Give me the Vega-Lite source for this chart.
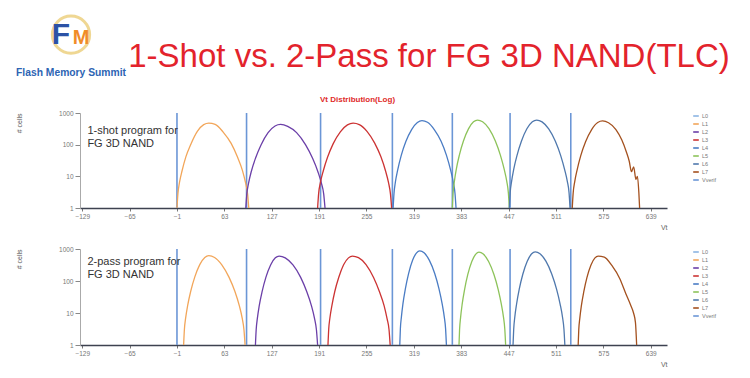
{
  "$schema": "https://vega.github.io/schema/vega-lite/v6.json",
  "background": "white",
  "padding": {"left": 14, "top": 10, "right": 5, "bottom": 5},
  "config": {
    "view": {"stroke": null},
    "font": "Liberation Sans",
    "legend": {"title": null, "orient": "right", "offset": 26, "labelFontSize": 5.5, "labelColor": "#777777", "symbolType": "M-1.4,0H1.4", "symbolSize": 16, "symbolStrokeWidth": 1.6, "rowPadding": 0, "labelOffset": 3, "padding": 0}
  },
  "datasets": {
    "verify": [
      {"level": "Vverif", "vt": -1}, {"level": "Vverif", "vt": 93}, {"level": "Vverif", "vt": 193}, {"level": "Vverif", "vt": 290},
      {"level": "Vverif", "vt": 371}, {"level": "Vverif", "vt": 449}, {"level": "Vverif", "vt": 531}
    ],
    "shot1": [
      {"level": "L1", "vt": -1, "cells": 1}, {"level": "L1", "vt": 0.3, "cells": 2.85}, {"level": "L1", "vt": 2.4, "cells": 6.4}, {"level": "L1", "vt": 5.9, "cells": 15}, {"level": "L1", "vt": 11, "cells": 41}, {"level": "L1", "vt": 17.9, "cells": 105}, {"level": "L1", "vt": 26.5, "cells": 262}, {"level": "L1", "vt": 35.1, "cells": 430}, {"level": "L1", "vt": 42, "cells": 480}, {"level": "L1", "vt": 50.6, "cells": 440}, {"level": "L1", "vt": 61.4, "cells": 250}, {"level": "L1", "vt": 72.2, "cells": 110}, {"level": "L1", "vt": 80.9, "cells": 40}, {"level": "L1", "vt": 87.4, "cells": 15.5}, {"level": "L1", "vt": 91.7, "cells": 6.2}, {"level": "L1", "vt": 94.4, "cells": 2.8}, {"level": "L1", "vt": 96, "cells": 1},
      {"level": "L2", "vt": 92, "cells": 1}, {"level": "L2", "vt": 93.4, "cells": 2.8}, {"level": "L2", "vt": 95.8, "cells": 6.2}, {"level": "L2", "vt": 99.5, "cells": 14.5}, {"level": "L2", "vt": 105.2, "cells": 38}, {"level": "L2", "vt": 112.7, "cells": 100}, {"level": "L2", "vt": 122.1, "cells": 240}, {"level": "L2", "vt": 131.5, "cells": 390}, {"level": "L2", "vt": 139, "cells": 437}, {"level": "L2", "vt": 148.6, "cells": 380}, {"level": "L2", "vt": 160.6, "cells": 240}, {"level": "L2", "vt": 172.6, "cells": 100}, {"level": "L2", "vt": 182.2, "cells": 37}, {"level": "L2", "vt": 189.4, "cells": 14}, {"level": "L2", "vt": 194.2, "cells": 6}, {"level": "L2", "vt": 197.2, "cells": 2.8}, {"level": "L2", "vt": 199, "cells": 1},
      {"level": "L3", "vt": 189, "cells": 1}, {"level": "L3", "vt": 190.4, "cells": 2.9}, {"level": "L3", "vt": 192.8, "cells": 6.4}, {"level": "L3", "vt": 196.7, "cells": 15}, {"level": "L3", "vt": 202.4, "cells": 40}, {"level": "L3", "vt": 210.1, "cells": 108}, {"level": "L3", "vt": 219.7, "cells": 255}, {"level": "L3", "vt": 229.3, "cells": 420}, {"level": "L3", "vt": 237, "cells": 480}, {"level": "L3", "vt": 245.3, "cells": 430}, {"level": "L3", "vt": 255.7, "cells": 262}, {"level": "L3", "vt": 266.1, "cells": 112}, {"level": "L3", "vt": 274.4, "cells": 42}, {"level": "L3", "vt": 280.7, "cells": 15}, {"level": "L3", "vt": 284.8, "cells": 6.3}, {"level": "L3", "vt": 287.4, "cells": 2.8}, {"level": "L3", "vt": 289, "cells": 1},
      {"level": "L4", "vt": 291, "cells": 1}, {"level": "L4", "vt": 292.2, "cells": 2.9}, {"level": "L4", "vt": 294.1, "cells": 6.7}, {"level": "L4", "vt": 297.2, "cells": 16}, {"level": "L4", "vt": 301.9, "cells": 45}, {"level": "L4", "vt": 308.2, "cells": 125}, {"level": "L4", "vt": 316, "cells": 300}, {"level": "L4", "vt": 323.8, "cells": 500}, {"level": "L4", "vt": 330, "cells": 575}, {"level": "L4", "vt": 337.4, "cells": 510}, {"level": "L4", "vt": 346.6, "cells": 300}, {"level": "L4", "vt": 355.8, "cells": 128}, {"level": "L4", "vt": 363.1, "cells": 46}, {"level": "L4", "vt": 368.6, "cells": 16}, {"level": "L4", "vt": 372.3, "cells": 6.5}, {"level": "L4", "vt": 374.6, "cells": 2.9}, {"level": "L4", "vt": 376, "cells": 1},
      {"level": "L5", "vt": 371, "cells": 1}, {"level": "L5", "vt": 372, "cells": 3}, {"level": "L5", "vt": 373.7, "cells": 6.8}, {"level": "L5", "vt": 376.4, "cells": 17}, {"level": "L5", "vt": 380.5, "cells": 47}, {"level": "L5", "vt": 386, "cells": 130}, {"level": "L5", "vt": 392.8, "cells": 315}, {"level": "L5", "vt": 399.6, "cells": 525}, {"level": "L5", "vt": 405, "cells": 600}, {"level": "L5", "vt": 411.9, "cells": 530}, {"level": "L5", "vt": 420.5, "cells": 320}, {"level": "L5", "vt": 429.1, "cells": 130}, {"level": "L5", "vt": 436, "cells": 46}, {"level": "L5", "vt": 441.1, "cells": 16.5}, {"level": "L5", "vt": 444.6, "cells": 6.8}, {"level": "L5", "vt": 446.7, "cells": 3}, {"level": "L5", "vt": 448, "cells": 1},
      {"level": "L6", "vt": 448, "cells": 1}, {"level": "L6", "vt": 449.1, "cells": 3}, {"level": "L6", "vt": 451, "cells": 6.8}, {"level": "L6", "vt": 453.9, "cells": 16.5}, {"level": "L6", "vt": 458.4, "cells": 46}, {"level": "L6", "vt": 464.3, "cells": 128}, {"level": "L6", "vt": 471.7, "cells": 318}, {"level": "L6", "vt": 479.1, "cells": 530}, {"level": "L6", "vt": 485, "cells": 600}, {"level": "L6", "vt": 492.2, "cells": 525}, {"level": "L6", "vt": 501.2, "cells": 315}, {"level": "L6", "vt": 510.2, "cells": 128}, {"level": "L6", "vt": 517.4, "cells": 45}, {"level": "L6", "vt": 522.8, "cells": 16}, {"level": "L6", "vt": 526.4, "cells": 6.8}, {"level": "L6", "vt": 528.7, "cells": 3}, {"level": "L6", "vt": 530, "cells": 1},
      {"level": "L7", "vt": 533, "cells": 1}, {"level": "L7", "vt": 534.2, "cells": 2.9}, {"level": "L7", "vt": 536.3, "cells": 6.7}, {"level": "L7", "vt": 539.6, "cells": 16}, {"level": "L7", "vt": 544.5, "cells": 45}, {"level": "L7", "vt": 551, "cells": 123}, {"level": "L7", "vt": 559.2, "cells": 300}, {"level": "L7", "vt": 567.4, "cells": 500}, {"level": "L7", "vt": 574, "cells": 560}, {"level": "L7", "vt": 582, "cells": 490}, {"level": "L7", "vt": 592, "cells": 300}, {"level": "L7", "vt": 600, "cells": 140}, {"level": "L7", "vt": 606, "cells": 60}, {"level": "L7", "vt": 610, "cells": 30}, {"level": "L7", "vt": 613, "cells": 14}, {"level": "L7", "vt": 616, "cells": 20}, {"level": "L7", "vt": 619, "cells": 8}, {"level": "L7", "vt": 621, "cells": 10}, {"level": "L7", "vt": 623, "cells": 3}, {"level": "L7", "vt": 624, "cells": 1}
    ],
    "pass2": [
      {"level": "L1", "vt": 8, "cells": 1}, {"level": "L1", "vt": 9, "cells": 3}, {"level": "L1", "vt": 10.7, "cells": 6.9}, {"level": "L1", "vt": 13.4, "cells": 17}, {"level": "L1", "vt": 17.5, "cells": 47}, {"level": "L1", "vt": 23, "cells": 132}, {"level": "L1", "vt": 29.8, "cells": 324}, {"level": "L1", "vt": 36.6, "cells": 540}, {"level": "L1", "vt": 42, "cells": 617}, {"level": "L1", "vt": 49.8, "cells": 545}, {"level": "L1", "vt": 59.6, "cells": 320}, {"level": "L1", "vt": 69.4, "cells": 130}, {"level": "L1", "vt": 77.3, "cells": 47}, {"level": "L1", "vt": 83.2, "cells": 17}, {"level": "L1", "vt": 87.1, "cells": 6.9}, {"level": "L1", "vt": 89.5, "cells": 3}, {"level": "L1", "vt": 91, "cells": 1},
      {"level": "L2", "vt": 105, "cells": 1}, {"level": "L2", "vt": 106, "cells": 3}, {"level": "L2", "vt": 107.6, "cells": 6.8}, {"level": "L2", "vt": 110.1, "cells": 16.7}, {"level": "L2", "vt": 114, "cells": 46.6}, {"level": "L2", "vt": 119.1, "cells": 130}, {"level": "L2", "vt": 125.5, "cells": 318}, {"level": "L2", "vt": 131.9, "cells": 530}, {"level": "L2", "vt": 137, "cells": 603}, {"level": "L2", "vt": 145.3, "cells": 530}, {"level": "L2", "vt": 155.7, "cells": 318}, {"level": "L2", "vt": 166.1, "cells": 130}, {"level": "L2", "vt": 174.4, "cells": 46}, {"level": "L2", "vt": 180.7, "cells": 16.7}, {"level": "L2", "vt": 184.8, "cells": 6.8}, {"level": "L2", "vt": 187.4, "cells": 3}, {"level": "L2", "vt": 189, "cells": 1},
      {"level": "L3", "vt": 203, "cells": 1}, {"level": "L3", "vt": 204, "cells": 3.1}, {"level": "L3", "vt": 205.6, "cells": 7}, {"level": "L3", "vt": 208.3, "cells": 17}, {"level": "L3", "vt": 212.2, "cells": 47}, {"level": "L3", "vt": 217.5, "cells": 128}, {"level": "L3", "vt": 224.1, "cells": 320}, {"level": "L3", "vt": 230.7, "cells": 528}, {"level": "L3", "vt": 236, "cells": 600}, {"level": "L3", "vt": 244.2, "cells": 535}, {"level": "L3", "vt": 254.4, "cells": 325}, {"level": "L3", "vt": 264.6, "cells": 128}, {"level": "L3", "vt": 272.7, "cells": 45}, {"level": "L3", "vt": 278.8, "cells": 17}, {"level": "L3", "vt": 282.9, "cells": 6.5}, {"level": "L3", "vt": 285.5, "cells": 3}, {"level": "L3", "vt": 287, "cells": 1},
      {"level": "L4", "vt": 300, "cells": 1}, {"level": "L4", "vt": 300.8, "cells": 3.2}, {"level": "L4", "vt": 302.2, "cells": 7.6}, {"level": "L4", "vt": 304.3, "cells": 19.7}, {"level": "L4", "vt": 307.6, "cells": 58}, {"level": "L4", "vt": 311.9, "cells": 171}, {"level": "L4", "vt": 317.3, "cells": 443}, {"level": "L4", "vt": 322.7, "cells": 760}, {"level": "L4", "vt": 327, "cells": 871}, {"level": "L4", "vt": 332.8, "cells": 760}, {"level": "L4", "vt": 340, "cells": 440}, {"level": "L4", "vt": 347.2, "cells": 171}, {"level": "L4", "vt": 352.9, "cells": 58}, {"level": "L4", "vt": 357.2, "cells": 19.7}, {"level": "L4", "vt": 360.1, "cells": 7.6}, {"level": "L4", "vt": 361.9, "cells": 3.2}, {"level": "L4", "vt": 363, "cells": 1},
      {"level": "L5", "vt": 380, "cells": 1}, {"level": "L5", "vt": 380.8, "cells": 3.1}, {"level": "L5", "vt": 382.2, "cells": 7.4}, {"level": "L5", "vt": 384.3, "cells": 18.9}, {"level": "L5", "vt": 387.6, "cells": 55}, {"level": "L5", "vt": 391.9, "cells": 160}, {"level": "L5", "vt": 397.3, "cells": 407}, {"level": "L5", "vt": 402.7, "cells": 695}, {"level": "L5", "vt": 407, "cells": 794}, {"level": "L5", "vt": 412.8, "cells": 695}, {"level": "L5", "vt": 420, "cells": 407}, {"level": "L5", "vt": 427.2, "cells": 160}, {"level": "L5", "vt": 432.9, "cells": 55}, {"level": "L5", "vt": 437.2, "cells": 18.9}, {"level": "L5", "vt": 440.1, "cells": 7.4}, {"level": "L5", "vt": 441.9, "cells": 3.1}, {"level": "L5", "vt": 443, "cells": 1},
      {"level": "L6", "vt": 453, "cells": 1}, {"level": "L6", "vt": 453.9, "cells": 3.1}, {"level": "L6", "vt": 455.4, "cells": 7.5}, {"level": "L6", "vt": 457.8, "cells": 19.1}, {"level": "L6", "vt": 461.4, "cells": 55.7}, {"level": "L6", "vt": 466.2, "cells": 163}, {"level": "L6", "vt": 472.2, "cells": 416}, {"level": "L6", "vt": 478.2, "cells": 711}, {"level": "L6", "vt": 483, "cells": 813}, {"level": "L6", "vt": 489.4, "cells": 711}, {"level": "L6", "vt": 497.4, "cells": 416}, {"level": "L6", "vt": 505.4, "cells": 163}, {"level": "L6", "vt": 511.8, "cells": 55.7}, {"level": "L6", "vt": 516.6, "cells": 19.1}, {"level": "L6", "vt": 519.8, "cells": 7.5}, {"level": "L6", "vt": 521.8, "cells": 3.1}, {"level": "L6", "vt": 523, "cells": 1},
      {"level": "L7", "vt": 541, "cells": 1}, {"level": "L7", "vt": 541.8, "cells": 3}, {"level": "L7", "vt": 543.2, "cells": 6.8}, {"level": "L7", "vt": 545.3, "cells": 16.7}, {"level": "L7", "vt": 548.6, "cells": 46.6}, {"level": "L7", "vt": 552.9, "cells": 130}, {"level": "L7", "vt": 558.3, "cells": 318}, {"level": "L7", "vt": 563.7, "cells": 530}, {"level": "L7", "vt": 568, "cells": 600}, {"level": "L7", "vt": 576.3, "cells": 560}, {"level": "L7", "vt": 586.7, "cells": 300}, {"level": "L7", "vt": 597.1, "cells": 120}, {"level": "L7", "vt": 605.4, "cells": 40}, {"level": "L7", "vt": 611.7, "cells": 18}, {"level": "L7", "vt": 615.8, "cells": 10}, {"level": "L7", "vt": 618.4, "cells": 5}, {"level": "L7", "vt": 620, "cells": 1}
    ]
  },
  "spacing": 0,
  "vconcat": [
    {
      "spacing": 0,
      "hconcat": [
        {
          "width": 114,
          "height": 84,
          "layer": [
            {
              "data": {"values": [{"part": "icon"}]},
              "mark": {"type": "point", "shape": "circle", "size": 1385, "filled": false, "stroke": "#e9c766", "strokeWidth": 3},
              "encoding": {"y": {"field": "part", "type": "nominal", "scale": {"domain": ["icon", "name"], "padding": 0.585}, "axis": null}}
            },
            {
              "data": {"values": [{"part": "icon", "glyph": "F"}]},
              "mark": {"type": "text", "fontSize": 30, "fontWeight": "bold", "color": "#2c52a5", "dx": -10},
              "encoding": {"y": {"field": "part", "type": "nominal", "scale": {"domain": ["icon", "name"], "padding": 0.585}, "axis": null}, "text": {"field": "glyph"}}
            },
            {
              "data": {"values": [{"part": "icon", "glyph": "M"}]},
              "mark": {"type": "text", "fontSize": 20, "fontWeight": "bold", "color": "#f08c28", "dx": 10, "dy": 3},
              "encoding": {"y": {"field": "part", "type": "nominal", "scale": {"domain": ["icon", "name"], "padding": 0.585}, "axis": null}, "text": {"field": "glyph"}}
            },
            {
              "data": {"values": [{"part": "name", "label": "Flash Memory Summit"}]},
              "mark": {"type": "text", "font": "Liberation Sans", "fontSize": 10.3, "fontWeight": "bold", "color": "#2d64b3"},
              "encoding": {"y": {"field": "part", "type": "nominal", "scale": {"domain": ["icon", "name"], "padding": 0.585}, "axis": null}, "text": {"field": "label"}}
            }
          ]
        },
        {
          "width": 600,
          "height": 84,
          "data": {"values": [{"t": "1-Shot vs. 2-Pass for FG 3D NAND(TLC)"}]},
          "mark": {"type": "text", "fontSize": 33, "color": "#e3232c", "font": "Liberation Sans", "baseline": "middle", "dy": 3},
          "encoding": {"text": {"field": "t"}}
        }
      ]
    },
    {
      "spacing": 0,
      "hconcat": [
        {
          "width": 1,
          "height": 1,
          "data": {"values": []},
          "mark": {"type": "point", "opacity": 0},
          "encoding": {}
        },
        {
          "spacing": 15,
          "resolve": {"scale": {"color": "independent"}},
          "vconcat": [
            {
              "title": {"text": "Vt Distribution(Log)", "fontSize": 8, "fontWeight": "bold", "color": "#e02a2a", "offset": 6, "dx": -16},
              "width": 587,
              "height": 95,
              "layer": [
                {
                  "data": {"name": "verify"},
                  "mark": {"type": "rule", "strokeWidth": 1.6},
                  "encoding": {
                    "x": {"field": "vt", "type": "quantitative", "scale": {"domain": [-132, 661], "nice": false, "zero": false}},
                    "color": {"field": "level", "type": "nominal", "scale": {"domain": ["L0", "L1", "L2", "L3", "L4", "L5", "L6", "L7", "Vverif"], "range": ["#8bb4e3", "#f2a65a", "#6b3fa8", "#cc3333", "#4a7cc4", "#8dc35a", "#4f78ad", "#a4511f", "#6b96d6"]}}
                  }
                },
                {
                  "data": {"name": "shot1"},
                  "mark": {"type": "line", "strokeWidth": 1.3, "interpolate": "monotone"},
                  "encoding": {
                    "x": {"field": "vt", "type": "quantitative", "scale": {"domain": [-132, 661], "nice": false, "zero": false},
                      "axis": {"values": [-129, -65, -1, 63, 127, 191, 255, 319, 383, 447, 511, 575, 639], "title": "Vt", "titleAnchor": "end", "titleFontSize": 7, "titleFontWeight": "normal", "titleColor": "#666666", "titlePadding": 4, "labelFontSize": 6.5, "labelColor": "#777777", "domainColor": "#3d4250", "domainWidth": 1.6, "tickColor": "#777777", "tickSize": 3, "grid": false, "labelFlush": false, "labelOverlap": false}},
                    "y": {"field": "cells", "type": "quantitative", "scale": {"type": "log", "domain": [1, 1000], "nice": false},
                      "axis": {"values": [1, 10, 100, 1000], "format": "d", "title": "# cells", "titleAnchor": "end", "titleFontSize": 7, "titleFontWeight": "normal", "titleColor": "#555555", "titlePadding": 36, "labelFontSize": 6.5, "labelColor": "#777777", "domainColor": "#aaaaaa", "tickColor": "#888888", "tickSize": 5, "grid": false}},
                    "color": {"field": "level", "type": "nominal", "scale": {"domain": ["L0", "L1", "L2", "L3", "L4", "L5", "L6", "L7", "Vverif"], "range": ["#8bb4e3", "#f2a65a", "#6b3fa8", "#cc3333", "#4a7cc4", "#8dc35a", "#4f78ad", "#a4511f", "#6b96d6"]}}
                  }
                },
                {
                  "data": {"values": [{}]},
                  "mark": {"type": "text", "text": ["1-shot program for", "FG 3D NAND"], "align": "left", "baseline": "top", "fontSize": 11, "lineHeight": 13, "color": "#333333"},
                  "encoding": {"x": {"datum": -122, "type": "quantitative"}, "y": {"datum": 404, "type": "quantitative"}}
                }
              ]
            },
            {
              "width": 587,
              "height": 96,
              "layer": [
                {
                  "data": {"name": "verify"},
                  "mark": {"type": "rule", "strokeWidth": 1.6},
                  "encoding": {
                    "x": {"field": "vt", "type": "quantitative", "scale": {"domain": [-132, 661], "nice": false, "zero": false}},
                    "color": {"field": "level", "type": "nominal", "scale": {"domain": ["L0", "L1", "L2", "L3", "L4", "L5", "L6", "L7", "Vverif"], "range": ["#8bb4e3", "#f2a65a", "#6b3fa8", "#cc3333", "#4a7cc4", "#8dc35a", "#4f78ad", "#a4511f", "#6b96d6"]}}
                  }
                },
                {
                  "data": {"name": "pass2"},
                  "mark": {"type": "line", "strokeWidth": 1.3, "interpolate": "monotone"},
                  "encoding": {
                    "x": {"field": "vt", "type": "quantitative", "scale": {"domain": [-132, 661], "nice": false, "zero": false},
                      "axis": {"values": [-129, -65, -1, 63, 127, 191, 255, 319, 383, 447, 511, 575, 639], "title": "Vt", "titleAnchor": "end", "titleFontSize": 7, "titleFontWeight": "normal", "titleColor": "#666666", "titlePadding": 4, "labelFontSize": 6.5, "labelColor": "#777777", "domainColor": "#3d4250", "domainWidth": 1.6, "tickColor": "#777777", "tickSize": 3, "grid": false, "labelFlush": false, "labelOverlap": false}},
                    "y": {"field": "cells", "type": "quantitative", "scale": {"type": "log", "domain": [1, 1000], "nice": false},
                      "axis": {"values": [1, 10, 100, 1000], "format": "d", "title": "# cells", "titleAnchor": "end", "titleFontSize": 7, "titleFontWeight": "normal", "titleColor": "#555555", "titlePadding": 36, "labelFontSize": 6.5, "labelColor": "#777777", "domainColor": "#aaaaaa", "tickColor": "#888888", "tickSize": 5, "grid": false}},
                    "color": {"field": "level", "type": "nominal", "scale": {"domain": ["L0", "L1", "L2", "L3", "L4", "L5", "L6", "L7", "Vverif"], "range": ["#8bb4e3", "#f2a65a", "#6b3fa8", "#cc3333", "#4a7cc4", "#8dc35a", "#4f78ad", "#a4511f", "#6b96d6"]}}
                  }
                },
                {
                  "data": {"values": [{}]},
                  "mark": {"type": "text", "text": ["2-pass program for", "FG 3D NAND"], "align": "left", "baseline": "top", "fontSize": 11, "lineHeight": 13, "color": "#333333"},
                  "encoding": {"x": {"datum": -122, "type": "quantitative"}, "y": {"datum": 600, "type": "quantitative"}}
                }
              ]
            }
          ]
        }
      ]
    }
  ]
}
